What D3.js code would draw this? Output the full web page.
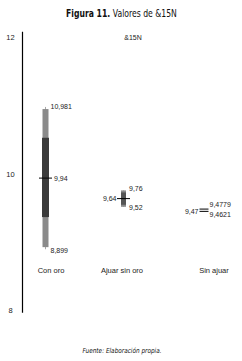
<!DOCTYPE html>
<html>
<head>
<meta charset="utf-8">
<script src="https://cdn.jsdelivr.net/npm/d3@7"></script>
<style>
  body { margin: 0; background: #fff; }
  svg { display: block; }
</style>
</head>
<body>
<svg id="chart"></svg>
<script>
// data
let categories = ["Con oro", "Ajuar sin oro", "Sin ajuar"];
let minVals = [8.899, 9.52, 9.4621];
let maxVals = [10.981, 9.76, 9.4779];
let medians = [9.94, 9.64, 9.47];
let bandLow = [8.93, 9.52, 9.4621];
let bandHigh = [10.95, 9.76, 9.4779];
let q1Vals = [9.37, 9.55, 9.4621];
let q3Vals = [10.53, 9.73, 9.4779];
let yTicks = [8, 10, 12];

let width = 242;
let height = 361;
let fontFam = "'Liberation Sans', Arial, sans-serif";
let narrowFam = "'Liberation Sans Narrow', 'DejaVu Sans Condensed', sans-serif";

let svg = d3.select("#chart")
    .attr("width", width)
    .attr("height", height);

let y = d3.scaleLinear().domain([8, 12]).range([310.7, 37.3]);
let xBox = d3.scaleOrdinal().domain(categories).range([45.5, 123.5, 204]);
let xLabel = d3.scaleOrdinal().domain(categories).range([51, 122, 214]);
let comma = function(v){ return String(v).replace(".", ","); };

let rows = categories.map(function(c, i){
    return {cat: c, min: minVals[i], max: maxVals[i], med: medians[i],
            bl: bandLow[i], bh: bandHigh[i], q1: q1Vals[i], q3: q3Vals[i], i: i};
});

// title: one text, bold first part, squeezed horizontally to fit
let titleG = svg.append("g");
let title = titleG.append("text")
    .attr("x", 0).attr("y", 0)
    .attr("font-family", narrowFam)
    .attr("font-size", "11px")
    .attr("fill", "#111");
title.append("tspan").attr("font-weight", "bold").text("Figura 11. ");
title.append("tspan").text("Valores de &15N");
let tw = title.node().getComputedTextLength();
titleG.attr("transform", "translate(66,17) scale(" + (111 / tw) + ",1)");

svg.append("text")
    .attr("x", 133).attr("y", 37)
    .attr("text-anchor", "middle")
    .attr("dominant-baseline", "central")
    .attr("font-family", fontFam)
    .attr("font-size", "7px")
    .attr("fill", "#222")
    .text("&15N");

// y axis: just a line with labels
svg.append("line")
    .attr("x1", 22.5).attr("x2", 22.5)
    .attr("y1", y(12.08)).attr("y2", y(7.97))
    .attr("stroke", "#000")
    .attr("stroke-width", 1.2);

svg.selectAll(".ytick")
    .data(yTicks)
    .enter()
    .append("text")
    .attr("class", "ytick")
    .attr("x", 10.5)
    .attr("y", function(d){ return y(d); })
    .attr("text-anchor", "middle")
    .attr("dominant-baseline", "central")
    .attr("font-family", fontFam)
    .attr("font-size", "7.5px")
    .attr("fill", "#222")
    .text(function(d){ return d; });

// category labels
svg.selectAll(".cat")
    .data(categories)
    .enter()
    .append("text")
    .attr("class", "cat")
    .attr("x", function(d){ return xLabel(d); })
    .attr("y", 270)
    .attr("text-anchor", "middle")
    .attr("dominant-baseline", "central")
    .attr("font-family", fontFam)
    .attr("font-size", "7.5px")
    .attr("fill", "#222")
    .text(function(d){ return d; });

// boxes
let boxW = [7, 5, 9];
let bandW = [6, 5, 9];
let boxFill = ["#3a3a3a", "#555555", "none"];

let g = svg.selectAll(".box")
    .data(rows)
    .enter()
    .append("g")
    .attr("class", "box");

g.append("line")
    .attr("x1", function(d){ return xBox(d.cat); })
    .attr("x2", function(d){ return xBox(d.cat); })
    .attr("y1", function(d){ return y(d.max); })
    .attr("y2", function(d){ return y(d.min); })
    .attr("stroke", "#a8a8a8")
    .attr("stroke-width", function(d){ return d.i == 2 ? 0 : 1; });

g.append("rect")
    .attr("x", function(d){ return xBox(d.cat) - bandW[d.i] / 2; })
    .attr("width", function(d){ return bandW[d.i]; })
    .attr("y", function(d){ return y(d.bh); })
    .attr("height", function(d){ return y(d.bl) - y(d.bh); })
    .attr("fill", function(d){ return d.i == 2 ? "none" : "#8a8a8a"; });

g.append("rect")
    .attr("x", function(d){ return xBox(d.cat) - boxW[d.i] / 2; })
    .attr("width", function(d){ return boxW[d.i]; })
    .attr("y", function(d){ return y(d.q3); })
    .attr("height", function(d){ return y(d.q1) - y(d.q3); })
    .attr("fill", function(d){ return boxFill[d.i]; });

// median lines (the last group draws its two close bounds instead)
g.filter(function(d){ return d.i < 2; })
    .append("line")
    .attr("x1", function(d){ return xBox(d.cat) - 6.5; })
    .attr("x2", function(d){ return xBox(d.cat) + 6.5; })
    .attr("y1", function(d){ return y(d.med); })
    .attr("y2", function(d){ return y(d.med); })
    .attr("stroke", "#000")
    .attr("stroke-width", 1);

let last = g.filter(function(d){ return d.i == 2; });
[["q3", -0.6], ["q1", 0.6]].forEach(function(k){
    last.append("line")
        .attr("x1", function(d){ return xBox(d.cat) - 4.5; })
        .attr("x2", function(d){ return xBox(d.cat) + 4.5; })
        .attr("y1", function(d){ return y(d[k[0]]) + k[1]; })
        .attr("y2", function(d){ return y(d[k[0]]) + k[1]; })
        .attr("stroke", "#000")
        .attr("stroke-width", 1);
});

// value labels
let valText = function(sel){
    return sel.attr("font-family", fontFam)
        .attr("font-size", "7px")
        .attr("fill", "#222")
        .attr("dominant-baseline", "central");
};

// max / min labels to the right
valText(g.append("text"))
    .attr("x", function(d){ return xBox(d.cat) + (d.i == 0 ? 5 : 5.5); })
    .attr("y", function(d){ return d.i == 0 ? y(d.max) : y(d.max) - (d.i == 2 ? 5.5 : 1.5); })
    .text(function(d){ return comma(d.max); });

valText(g.append("text"))
    .attr("x", function(d){ return xBox(d.cat) + (d.i == 0 ? 5 : 5.5); })
    .attr("y", function(d){ return d.i == 0 ? y(d.min) + 1 : y(d.min) + (d.i == 2 ? 3.5 : 1); })
    .text(function(d){ return comma(d.min); });

// median labels: right for the first, left for the others
valText(g.append("text"))
    .attr("x", function(d){ return d.i == 0 ? xBox(d.cat) + 8.5 : xBox(d.cat) - (d.i == 2 ? 5.5 : 7); })
    .attr("y", function(d){ return y(d.med) + (d.i == 2 ? 1.5 : 0); })
    .attr("text-anchor", function(d){ return d.i == 0 ? "start" : "end"; })
    .text(function(d){ return comma(d.med); });

// footer
svg.append("text")
    .attr("x", 122).attr("y", 351)
    .attr("text-anchor", "middle")
    .attr("dominant-baseline", "central")
    .attr("font-family", narrowFam)
    .attr("font-style", "italic")
    .attr("font-size", "7px")
    .attr("fill", "#111")
    .attr("textLength", 79)
    .attr("lengthAdjust", "spacingAndGlyphs")
    .text("Fuente: Elaboración propia.");
</script>
</body>
</html>
